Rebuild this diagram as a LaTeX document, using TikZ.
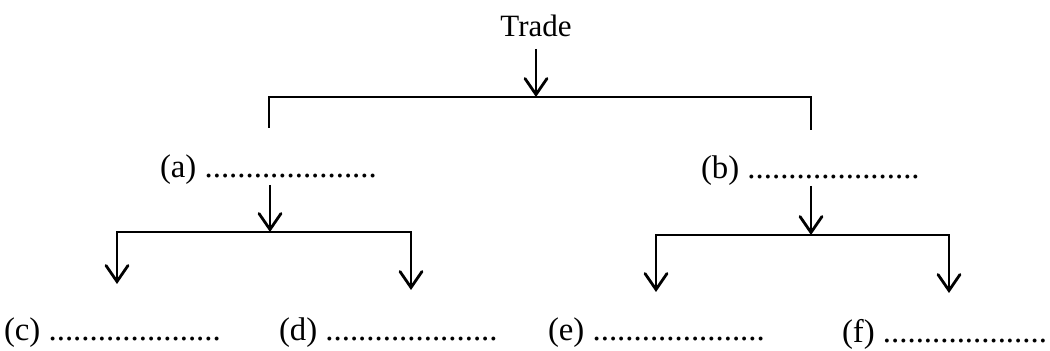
\documentclass[tikz,border=0pt]{standalone}
\usepackage{fontspec}
\setmainfont{Liberation Serif}
\usepackage{tikz}
\usetikzlibrary{arrows.meta}

\begin{document}
\begin{tikzpicture}[x=0.5pt,y=-0.5pt]
                \tikzstyle{every node}+=[inner sep=0pt,outer sep=0pt,font=\fontsize{16.4}{19}\selectfont]
                \tikzstyle{blank}=[anchor=west]
                \tikzstyle{line}=[black,line width=1.4pt,line join=miter]
                \tikzstyle{arr}=[line,-{Straight Barb[length=8pt,width=11pt,line cap=round]}]
                \useasboundingbox (0,0) rectangle (1050,351);
                % top level
                \node (trade) at (536,26) {\fontsize{15.5}{18}\selectfont Trade};
                \coordinate (topmid) at (536,97);
                \coordinate (topl) at (269,128);
                \coordinate (topr) at (811,130);
                \draw [arr,shorten <=6pt] (trade.south) -- (topmid);
                \draw [line] (topl) |- (topmid) -| (topr);
                % second level
                \node [blank] (a) at (160,170) {(a) .....................};
                \node [blank] (b) at (701,171) {(b) .....................};
                \coordinate (amid) at (270,232);
                \coordinate (bmid) at (811,235);
                \draw [arr] (a.south -| amid) -- (amid);
                \draw [arr] (b.south -| bmid) -- (bmid);
                % third level
                \node [blank] (c) at (4,333) {(c) .....................};
                \node [blank] (d) at (279,333) {(d) .....................};
                \node [blank] (e) at (548,333) {(e) .....................};
                \node [blank] (f) at (842,334) {(f) ....................};
                \coordinate (cend) at (117,284);
                \coordinate (dend) at (411,290);
                \coordinate (eend) at (656,292);
                \coordinate (fend) at (949,293);
                \draw [arr] (amid) -| (cend);
                \draw [arr] (amid) -| (dend);
                \draw [arr] (bmid) -| (eend);
                \draw [arr] (bmid) -| (fend);
            \end{tikzpicture}
\end{document}
